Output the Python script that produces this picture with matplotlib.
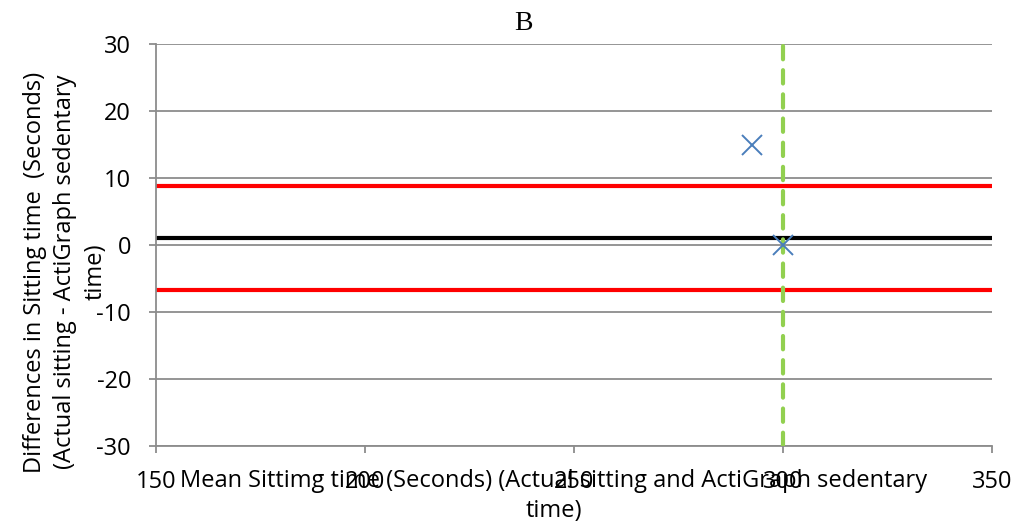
import numpy as np
import matplotlib.pyplot as plt

# data
mean_time = [292.5, 300]
diff_time = [15, 0]
bias = 1.0
upper_loa = 8.8
lower_loa = -6.7
ref_x = 300

x_ticks = [150, 200, 250, 300, 350]
y_ticks = [-30, -20, -10, 0, 10, 20, 30]

plt.rcParams['font.family'] = ['Open Sans', 'DejaVu Sans']
plt.rcParams['axes.unicode_minus'] = False

fig = plt.figure(figsize=(10.34, 5.28), dpi=100)
ax = fig.add_axes([156/1034, 1 - 446/528, (992-156)/1034, (446-44)/528])

grey = '#8c8c8c'
for y in y_ticks:
    ax.axhline(y, color=grey, lw=1.3, zorder=1)

ax.axhline(upper_loa, color='#ff0000', lw=3, solid_capstyle='round', zorder=2)
ax.axhline(lower_loa, color='#ff0000', lw=3, solid_capstyle='round', zorder=2)
ax.axhline(bias, color='black', lw=3, solid_capstyle='round', zorder=2)
ax.plot([ref_x, ref_x], [y_ticks[0], y_ticks[-1]], color='#92d050', lw=3,
        dashes=(3.2, 2.6), dash_capstyle='round', zorder=3)
ax.plot(mean_time, diff_time, linestyle='none', marker='x', color='#4a7ebb',
        markersize=14, markeredgewidth=1.4, zorder=4)

ax.set_xlim(x_ticks[0], x_ticks[-1])
ax.set_ylim(y_ticks[0], y_ticks[-1])
ax.set_xticks(x_ticks)
ax.set_yticks(y_ticks)
ax.tick_params(axis='both', direction='out', length=5, width=1.3, color=grey,
               labelsize=17)
ax.tick_params(axis='x', pad=12)
ax.tick_params(axis='y', pad=13)
for s in ['top', 'right']:
    ax.spines[s].set_visible(False)
for s in ['left', 'bottom']:
    ax.spines[s].set_color(grey)
    ax.spines[s].set_linewidth(1.3)

# Excel-style axis titles, overlapping the tick labels as in the source
fig.text(554/1034, 1 - 496/528,
         'Mean Sittimg time (Seconds) (Actual sitting and ActiGraph sedentary\ntime)',
         ha='center', va='center', fontsize=17, linespacing=1.28)
fig.text(65/1034, 1 - 272/528,
         'Differences in Sitting time  (Seconds)\n(Actual sitting - ActiGraph sedentary\ntime)',
         ha='center', va='center', rotation=90, fontsize=17, linespacing=1.36)
fig.text(523/1034, 1 - 24/528, 'B', ha='center', va='center', fontsize=20,
         family='Liberation Serif')

fig.savefig('out.png', dpi=100)
